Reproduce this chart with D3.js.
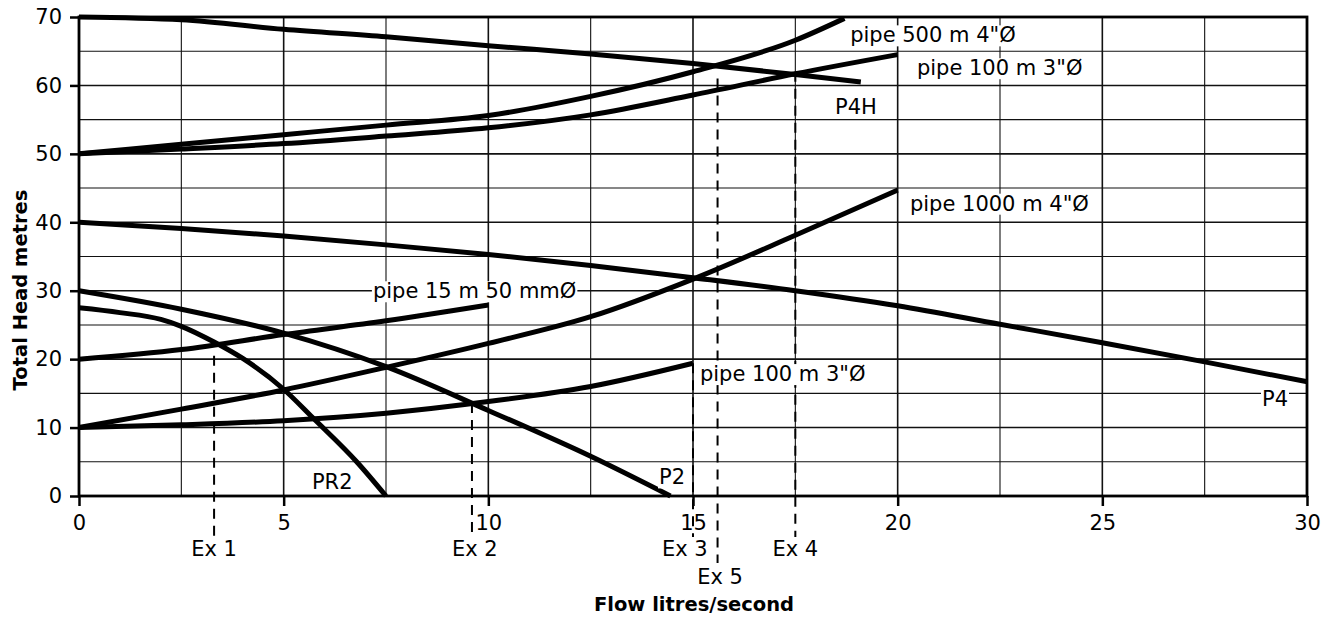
<!DOCTYPE html>
<html>

<head>
  <title>Pump and pipe curves</title>
  <script src="https://cdn.jsdelivr.net/npm/d3@7"></script>
  <style>
    body {
      margin: 0;
      background: white;
    }

    svg {
      display: block;
    }

    text {
      font-family: "DejaVu Sans", sans-serif;
    }
  </style>
</head>

<body>
  <script>

    // Akser: flow (litres/second) og head (metres)
    const xTicks = [0, 5, 10, 15, 20, 25, 30];
    const yTicks = [0, 10, 20, 30, 40, 50, 60, 70];

    // Pumpekurver
    const p4hFlow = [0, 2.5, 5, 7.5, 10, 12.5, 15, 17.5, 19.1];
    const p4hHead = [70, 69.6, 68.2, 67.1, 65.8, 64.6, 63.2, 61.6, 60.5];

    const p4Flow = [0, 2.5, 5, 7.5, 10, 12.5, 15, 17.5, 20, 22.5, 25, 27.5, 30];
    const p4Head = [40, 39.1, 38.0, 36.7, 35.3, 33.7, 31.9, 30.0, 27.8, 25.1, 22.4, 19.6, 16.7];

    const p2Flow = [0, 2.5, 5, 7.5, 10, 12.5, 14.45];
    const p2Head = [30, 27.3, 23.8, 18.9, 12.5, 5.8, 0];

    const pr2Flow = [0, 1, 2, 2.5, 3.3, 4, 5, 5.7, 6.8, 7.5];
    const pr2Head = [27.5, 26.8, 25.8, 24.8, 22.5, 20.1, 15.6, 11.5, 4.9, 0];

    // Rørkurver
    const pipe500Flow = [0, 2.5, 5, 7.5, 10, 12.5, 15, 17.5, 18.7];
    const pipe500Head = [50, 51.4, 52.8, 54.2, 55.6, 58.4, 62.0, 66.6, 69.8];

    const pipe100aFlow = [0, 2.5, 5, 7.5, 10, 12.5, 15, 17.5, 20];
    const pipe100aHead = [50, 50.7, 51.5, 52.6, 53.8, 55.7, 58.6, 61.7, 64.5];

    const pipe1000Flow = [0, 2.5, 5, 7.5, 10, 12.5, 15, 17.5, 20];
    const pipe1000Head = [10, 12.7, 15.5, 18.8, 22.3, 26.2, 31.7, 38.1, 44.7];

    const pipe100bFlow = [0, 2.5, 5, 7.5, 10, 12.5, 15];
    const pipe100bHead = [10, 10.4, 11.0, 12.1, 13.8, 16.0, 19.4];

    const pipe15Flow = [0, 2.5, 5, 7.5, 10];
    const pipe15Head = [20, 21.4, 23.6, 25.6, 27.9];

    // Kurve-etiketter (tekst, flow ved start, head ved midten)
    const curveLabels = ['pipe 500 m 4"Ø', 'pipe 100 m 3"Ø', "P4H", 'pipe 1000 m 4"Ø',
      "pipe 15 m 50 mmØ", 'pipe 100 m 3"Ø', "P4", "PR2", "P2"];
    const curveLabelFlow = [18.84, 20.47, 18.47, 20.3, 7.18, 15.17, 28.9, 5.69, 14.17];
    const curveLabelHead = [67.4, 62.6, 57.0, 42.8, 30.0, 17.9, 14.3, 2.2, 2.8];

    // Eksempler (stiplede linjer)
    const exLabels = ["Ex 1", "Ex 2", "Ex 3", "Ex 4", "Ex 5"];
    const exFlow = [3.3, 9.6, 15, 17.5, 15.6];
    const exTopHead = [20.5, 13.6, 19.4, 62.0, 61.0];
    const exLabelFlow = [3.3, 9.67, 14.8, 17.5, 15.66];
    const exRow = [0, 0, 0, 0, 1];

    const curves = [
      [p4hFlow, p4hHead], [p4Flow, p4Head], [p2Flow, p2Head], [pr2Flow, pr2Head],
      [pipe500Flow, pipe500Head], [pipe100aFlow, pipe100aHead], [pipe1000Flow, pipe1000Head],
      [pipe100bFlow, pipe100bHead], [pipe15Flow, pipe15Head]
    ].map(function (c) {
      return c[0].map(function (f, i) { return { flow: f, head: c[1][i] }; });
    });

    // Width og height
    const w = 1334;
    const h = 617;
    const margin = { top: 17, right: 27, bottom: 121, left: 79 };

    const xScale = d3.scaleLinear()
      .domain([0, 30])
      .range([margin.left, w - margin.right]);

    const yScale = d3.scaleLinear()
      .domain([0, 70])
      .range([h - margin.bottom, margin.top]);

    const svg = d3.select("body")
      .append("svg")
      .attr("width", w)
      .attr("height", h);

    // Gitter
    svg.selectAll("line.vgrid")
      .data(d3.range(2.5, 30, 2.5))
      .enter()
      .append("line")
      .attr("class", "vgrid")
      .attr("x1", d => xScale(d))
      .attr("x2", d => xScale(d))
      .attr("y1", yScale(0))
      .attr("y2", yScale(70))
      .attr("stroke", "#111")
      .attr("stroke-width", d => d % 5 === 0 ? 1.6 : 1.1);

    svg.selectAll("line.hgrid")
      .data(d3.range(5, 70, 5))
      .enter()
      .append("line")
      .attr("class", "hgrid")
      .attr("x1", xScale(0))
      .attr("x2", xScale(30))
      .attr("y1", d => yScale(d))
      .attr("y2", d => yScale(d))
      .attr("stroke", "#111")
      .attr("stroke-width", d => d % 10 === 0 ? 1.6 : 1.1);

    // Stiplede eksempel-linjer
    svg.selectAll("line.ex")
      .data(exFlow)
      .enter()
      .append("line")
      .attr("class", "ex")
      .attr("x1", d => xScale(d))
      .attr("x2", d => xScale(d))
      .attr("y1", (d, i) => yScale(exTopHead[i]))
      .attr("y2", (d, i) => yScale(0) + (exRow[i] === 0 ? 41 : 67))
      .attr("stroke", "black")
      .attr("stroke-width", 2)
      .attr("stroke-dasharray", "10,7");

    // Akser
    const xAxis = svg.append("g")
      .attr("transform", "translate(0," + yScale(0) + ")")
      .call(d3.axisBottom(xScale).tickValues(xTicks).tickSize(10).tickPadding(9));

    const yAxis = svg.append("g")
      .attr("transform", "translate(" + xScale(0) + ",0)")
      .call(d3.axisLeft(yScale).tickValues(yTicks).tickSize(9).tickPadding(8));

    [xAxis, yAxis].forEach(function (ax) {
      ax.select(".domain").remove();
      ax.selectAll(".tick line").attr("stroke", "black").attr("stroke-width", 2.5);
      ax.selectAll(".tick text")
        .attr("font-family", "DejaVu Sans, sans-serif")
        .attr("font-size", "21px")
        .attr("fill", "black");
    });

    // Ramme
    svg.append("rect")
      .attr("x", xScale(0))
      .attr("y", yScale(70))
      .attr("width", xScale(30) - xScale(0))
      .attr("height", yScale(0) - yScale(70))
      .attr("fill", "none")
      .attr("stroke", "black")
      .attr("stroke-width", 2.8);

    // Kurver
    const line = d3.line()
      .x(d => xScale(d.flow))
      .y(d => yScale(d.head))
      .curve(d3.curveMonotoneX);

    svg.selectAll("path.curve")
      .data(curves)
      .enter()
      .append("path")
      .attr("class", "curve")
      .attr("d", line)
      .attr("fill", "none")
      .attr("stroke", "black")
      .attr("stroke-width", 5)
      .attr("stroke-linecap", "butt");

    // Etiketter med hvid baggrund
    const labels = svg.selectAll("g.label")
      .data(curveLabels)
      .enter()
      .append("g")
      .attr("class", "label");

    labels.append("text")
      .text(d => d)
      .attr("x", (d, i) => xScale(curveLabelFlow[i]))
      .attr("y", (d, i) => yScale(curveLabelHead[i]))
      .attr("dy", "0.36em")
      .attr("font-size", "21px")
      .attr("fill", "black");

    labels.each(function () {
      const g = d3.select(this);
      const b = g.select("text").node().getBBox();
      g.insert("rect", "text")
        .attr("x", b.x - 1)
        .attr("y", b.y + 2)
        .attr("width", b.width + 2)
        .attr("height", b.height - 3)
        .attr("fill", "white");
    });

    svg.selectAll("text.exlabel")
      .data(exLabels)
      .enter()
      .append("text")
      .attr("class", "exlabel")
      .text(d => d)
      .attr("x", (d, i) => xScale(exLabelFlow[i]))
      .attr("y", (d, i) => yScale(0) + (exRow[i] === 0 ? 52 : 80))
      .attr("dy", "0.36em")
      .attr("text-anchor", "middle")
      .attr("font-size", "21px")
      .attr("fill", "black");

    // Aksetitler
    svg.append("text")
      .text("Flow litres/second")
      .attr("x", xScale(15) + 1)
      .attr("y", 604)
      .attr("dy", "0.36em")
      .attr("text-anchor", "middle")
      .attr("font-size", "19.5px")
      .attr("font-weight", "bold");

    svg.append("text")
      .text("Total Head metres")
      .attr("transform", "translate(20,290) rotate(-90)")
      .attr("dy", "0.36em")
      .attr("text-anchor", "middle")
      .attr("font-size", "19.5px")
      .attr("font-weight", "bold");

  </script>
</body>

</html>
